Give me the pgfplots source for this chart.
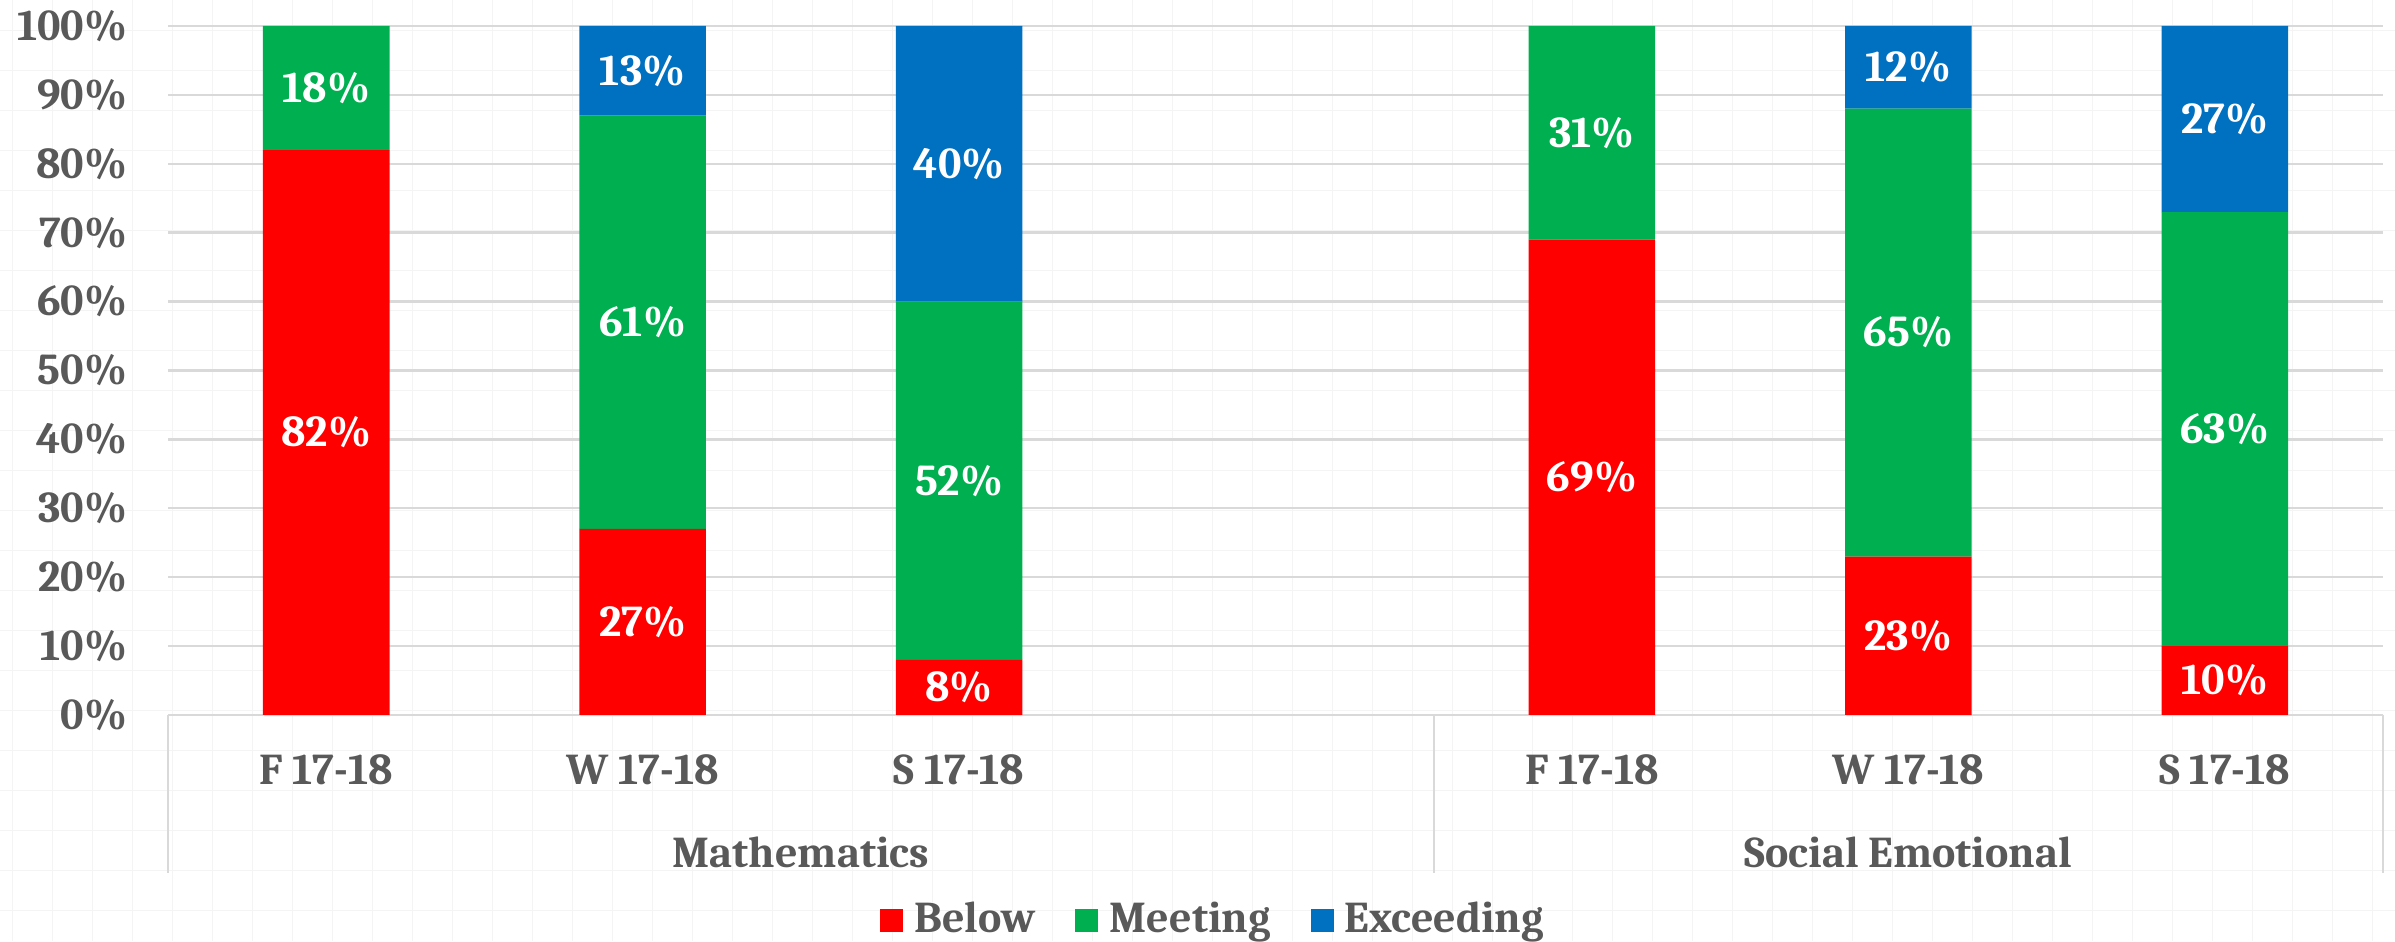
\documentclass[border=0pt]{standalone}
\usepackage{fontspec}
\setmainfont{Caladea}
\usepackage{pgfplots}
\pgfplotsset{compat=1.18}

\definecolor{cBelow}{HTML}{FF0000}
\definecolor{cMeet}{HTML}{00B050}
\definecolor{cExc}{HTML}{0070C0}
\definecolor{txt}{HTML}{595959}
\definecolor{gridc}{HTML}{D9D9D9}
\definecolor{sheet}{HTML}{F4F4F4}

\begin{document}
\begin{tikzpicture}
% page = 2395x941 px at 0.25pt/px
\path[use as bounding box, fill=white] (0,0) rectangle (598.75pt,235.25pt);
% faint worksheet grid behind the chart
\begin{scope}
  \clip (0,0) rectangle (598.75pt,235.25pt);
  \foreach \i in {0,...,59} \draw[sheet, line width=0.35pt] (3.075pt+\i*10pt,0) -- ++(0,235.25pt);
  \foreach \j in {0,...,23} \draw[sheet, line width=0.35pt] (0,7.575pt+\j*10pt) -- ++(598.75pt,0);
\end{scope}

\begin{axis}[
    at={(42pt,56.5pt)}, anchor=south west,
    scale only axis,
    width=553.75pt, height=172.25pt,
    ybar stacked,
    bar width=0.4,
    xmin=-0.5, xmax=6.5,
    ymin=0, ymax=100,
    clip=false,
    axis line style={draw=none},
    major tick length=0pt,
    ytick={0,10,...,100},
    yticklabel={\pgfmathprintnumber{\tick}\%},
    ymajorgrids,
    grid style={gridc, line width=0.6pt},
    xtick={0,1,2,4,5,6},
    xticklabels={F 17-18, W 17-18, S 17-18, F 17-18, W 17-18, S 17-18},
    /pgf/number format/assume math mode=true,
    tick label style={font=\fontsize{11}{13}\selectfont\bfseries, text=txt},
    yticklabel style={anchor=east, inner sep=0pt, xshift=-10pt},
    xticklabel style={anchor=center, inner sep=0pt, yshift=-13.75pt},
    point meta=explicit symbolic,
    nodes near coords={\ifnum\pgfplotspointmeta>0 \pgfplotspointmeta\%\fi},
    nodes near coords align=center,
    every node near coord/.append style={
        font=\fontsize{11}{13}\selectfont\bfseries, text=white,
        anchor=center, inner sep=0pt},
    legend style={
        at={(axis description cs:0.4731,0)}, anchor=center, yshift=-51.25pt,
        draw=none, fill=none, inner sep=0pt,
        font=\fontsize{11}{13}\selectfont\bfseries, text=txt,
        /tikz/every even column/.append style={column sep=8pt}},
    legend columns=-1,
    legend image code/.code={\fill[#1] (0pt,-2.875pt) rectangle (5.75pt,2.875pt);
        \path (6.6pt,0pt);},
]
\addplot[fill=cBelow, draw=none] coordinates {
    (0,82) [82] (1,27) [27] (2,8) [8]
    (4,69) [69] (5,23) [23] (6,10) [10]};
\addlegendentry{Below}
\addplot[fill=cMeet, draw=none] coordinates {
    (0,18) [18] (1,60) [61] (2,52) [52]
    (4,31) [31] (5,65) [65] (6,63) [63]};
\addlegendentry{Meeting}
\addplot[fill=cExc, draw=none] coordinates {
    (0,0) [0] (1,13) [13] (2,40) [40]
    (4,0) [0] (5,12) [12] (6,27) [27]};
\addlegendentry{Exceeding}

% category group separators and group names
\draw[gridc, line width=0.6pt] (axis cs:-0.5,0) -- ++(0pt,-39.5pt);
\draw[gridc, line width=0.6pt] (axis cs:3.5,0) -- ++(0pt,-39.5pt);
\draw[gridc, line width=0.6pt] (axis cs:6.5,0) -- ++(0pt,-39.5pt);
\node[font=\fontsize{11}{13}\selectfont\bfseries, text=txt, inner sep=0pt]
    at ([yshift=-34.4pt]axis cs:1.5,0) {Mathematics};
\node[font=\fontsize{11}{13}\selectfont\bfseries, text=txt, inner sep=0pt]
    at ([yshift=-34.4pt]axis cs:5,0) {Social Emotional};
\end{axis}
\end{tikzpicture}
\end{document}
